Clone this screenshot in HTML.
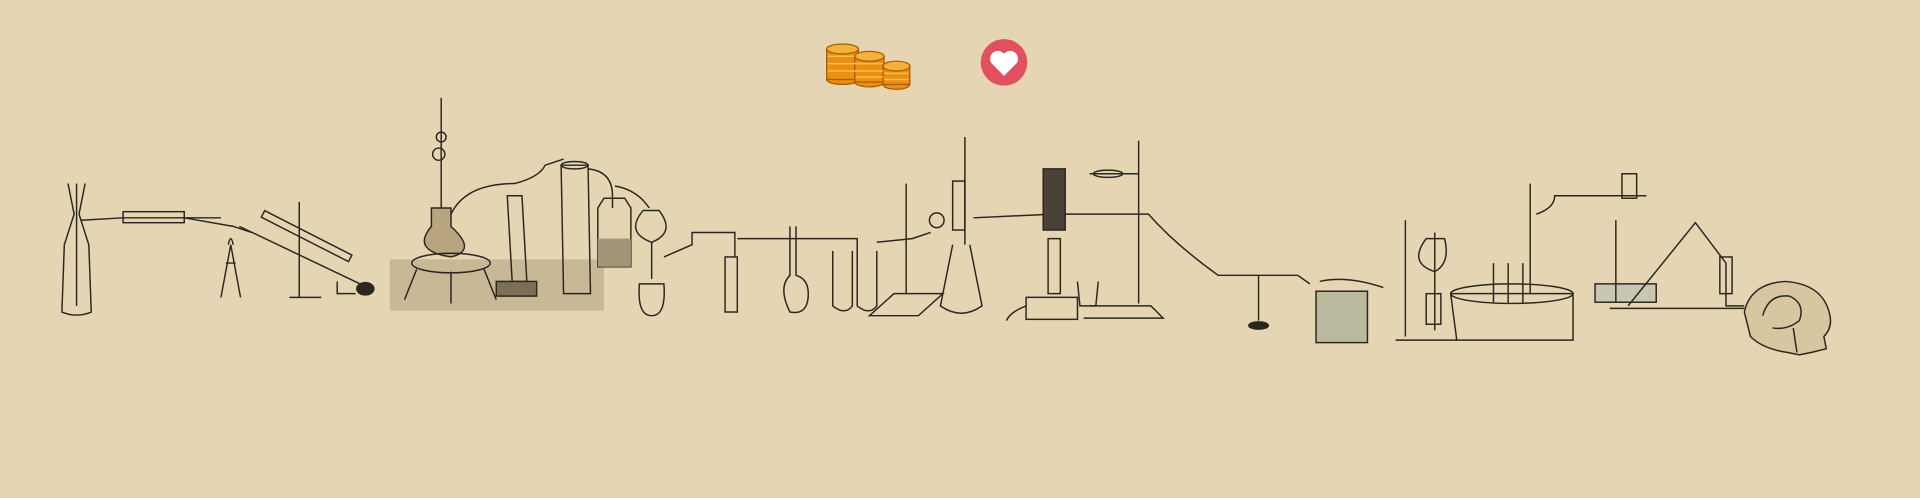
<!DOCTYPE html>
<html><head><meta charset="utf-8"><style>
html,body{margin:0;padding:0;background:#e5d5b3;width:1920px;height:498px;overflow:hidden}
svg{display:block}
</style></head><body>
<svg width="1920" height="498" viewBox="0 0 1568 407" xmlns="http://www.w3.org/2000/svg">
<rect width="1568" height="407" fill="#e5d5b3"/>
<!-- coins -->
<g>
  <g fill="#e98f12" stroke="#a85a05" stroke-width="1">
    <ellipse cx="688" cy="65" rx="13" ry="4"/><rect x="675" y="40" width="26" height="25"/>
    <ellipse cx="710" cy="67" rx="12" ry="4"/><rect x="698" y="46" width="24" height="21"/>
    <ellipse cx="732" cy="69" rx="11" ry="4"/><rect x="721" y="54" width="22" height="15"/>
  </g>
  <g stroke="#f7c04a" stroke-width="1.2">
    <line x1="676" y1="46" x2="700" y2="46"/><line x1="676" y1="52" x2="700" y2="52"/><line x1="676" y1="58" x2="700" y2="58"/>
    <line x1="699" y1="52" x2="721" y2="52"/><line x1="699" y1="58" x2="721" y2="58"/><line x1="699" y1="63" x2="721" y2="63"/>
    <line x1="722" y1="60" x2="742" y2="60"/><line x1="722" y1="65" x2="742" y2="65"/>
  </g>
  <ellipse cx="688" cy="40" rx="13" ry="4" fill="#f5b23a" stroke="#a85a05"/>
  <ellipse cx="710" cy="46" rx="12" ry="4" fill="#f5b23a" stroke="#a85a05"/>
  <ellipse cx="732" cy="54" rx="11" ry="4" fill="#f5b23a" stroke="#a85a05"/>
</g>
<!-- heart -->
<g>
  <title>Like</title>
  <circle cx="820" cy="51" r="19" fill="#e0505f"/>
  <path d="M820 62 L810 52 A5.5 5.5 0 0 1 820 44 A5.5 5.5 0 0 1 830 52 Z" fill="#fff"/>
</g>
<g fill="none" stroke="#2b2620" stroke-width="1.2">
  <!-- bottle left -->
  <g>
    <path d="M55 150 L60 175 L52 200 L50 255 Q62 260 74 255 L72 200 L64 175 L69 150"/>
    <line x1="62" y1="150" x2="62" y2="250"/>
    <path d="M66 180 L100 178 L180 178"/>
    <rect x="100" y="173" width="50" height="9"/>
    <path d="M150 178 L190 185 L205 190"/>
  </g>
  <!-- small flask stand -->
  <g>
    <path d="M180 243 L188 200 L196 243"/><path d="M184 215 L192 215 M186 200 Q188 190 190 200"/>
    <line x1="244" y1="165" x2="244" y2="243"/><line x1="236" y1="243" x2="262" y2="243"/>
    <path d="M195 185 L300 235"/><rect x="210" y="190" width="80" height="6" transform="rotate(27 250 193)"/>
    <path d="M275 230 L275 240 L290 240"/>
    <ellipse cx="298" cy="236" rx="7" ry="5" fill="#2b2620"/>
  </g>
  <!-- big flask with burner -->
  <g>
    <rect x="318" y="212" width="175" height="42" fill="#c8b895" stroke="none"/>
    <line x1="360" y1="80" x2="360" y2="170"/><circle cx="360" cy="112" r="4"/><circle cx="358" cy="126" r="5"/>
    <path d="M352 170 L352 185 Q335 205 368 210 Q390 205 368 185 L368 170 Z" fill="#b8a57f"/>
    <ellipse cx="368" cy="215" rx="32" ry="8"/>
    <path d="M340 220 L330 245 M395 220 L405 245 M368 222 L368 248"/>
    <path d="M368 175 Q380 150 420 150 Q440 145 445 135 L460 130"/>
    <path d="M414 160 L418 230 L430 230 L426 160 Z"/>
    <rect x="405" y="230" width="33" height="12" fill="#7d6e55"/>
    <path d="M458 135 L460 240 L482 240 L480 135 Z"/><ellipse cx="469" cy="135" rx="11" ry="3"/>
  </g>
  <!-- bottles -->
  <g>
    <path d="M480 138 Q500 140 500 160 L500 170"/>
    <path d="M488 170 L488 218 L515 218 L515 170 L510 162 L493 162 Z"/>
    <rect x="488" y="195" width="27" height="23" fill="#a49478" stroke="none"/>
    <path d="M502 152 Q520 155 530 170"/>
    <path d="M525 172 Q510 190 532 198 Q552 190 538 172 Z"/><path d="M532 198 L532 228"/>
    <path d="M522 232 Q520 258 532 258 Q544 258 542 232 Z"/>
    <path d="M542 210 L565 200 L565 190 L600 190 L600 210"/>
    <rect x="592" y="210" width="10" height="45"/>
    <path d="M602 195 L640 195 L648 195 L700 195 L700 215"/>
    <path d="M645 185 L645 225 Q635 235 645 255 Q660 258 660 240 Q660 228 650 225 L650 185"/>
    <path d="M680 205 L680 250 Q690 258 696 250 L696 205 M700 205 L700 250 Q710 258 716 250 L716 205"/>
    <path d="M716 198 L745 195 L760 190"/>
  </g>
  <!-- stand + erlenmeyer -->
  <g>
    <line x1="740" y1="150" x2="740" y2="240"/><path d="M710 258 L750 258 L770 240 L730 240 Z"/>
    <line x1="788" y1="112" x2="788" y2="200"/><rect x="778" y="148" width="10" height="40"/>
    <path d="M778 200 L768 250 Q785 262 802 250 L792 200"/>
    <circle cx="765" cy="180" r="6"/>
    <path d="M795 178 L860 175 L860 175"/>
  </g>
  <!-- burner column -->
  <g>
    <rect x="852" y="138" width="18" height="50" fill="#4a4238"/>
    <path d="M856 195 L866 195 L866 240 L856 240 Z"/>
    <rect x="838" y="243" width="42" height="18"/>
    <path d="M838 250 Q825 255 822 262"/>
    <line x1="930" y1="115" x2="930" y2="248"/><line x1="890" y1="142" x2="930" y2="142"/>
    <ellipse cx="905" cy="142" rx="12" ry="3"/>
    <path d="M880 230 L882 250 L895 250 L897 230"/>
    <path d="M885 260 L950 260 L940 250 L890 250"/>
    <path d="M870 175 L938 175 Q960 200 995 225 L1060 225 L1070 232"/>
  </g>
  <!-- pneumatic trough area -->
  <g>
    <line x1="1028" y1="225" x2="1028" y2="262"/><ellipse cx="1028" cy="266" rx="8" ry="3" fill="#2b2620"/>
    <rect x="1075" y="238" width="42" height="42" fill="#b9ba9e"/>
    <path d="M1078 230 Q1100 225 1130 235"/>
    <line x1="1148" y1="180" x2="1148" y2="275"/><line x1="1140" y1="278" x2="1190" y2="278"/>
    <path d="M1165 195 Q1150 215 1172 222 Q1185 215 1180 195 Z M1172 190 L1172 270"/>
    <rect x="1165" y="240" width="12" height="25"/>
    <path d="M1185 240 L1190 278 L1285 278 L1285 240 Z"/><ellipse cx="1235" cy="240" rx="50" ry="8"/>
    <path d="M1220 215 L1220 248 M1232 215 L1232 248 M1244 215 L1244 248"/>
    <line x1="1250" y1="150" x2="1250" y2="240"/>
    <path d="M1255 175 Q1270 170 1270 160 L1345 160"/>
    <rect x="1325" y="142" width="12" height="20"/>
  </g>
  <g>
    <rect x="1303" y="232" width="50" height="15" fill="#c9c7b0"/>
    <line x1="1320" y1="180" x2="1320" y2="247"/>
    <path d="M1330 250 L1385 182 L1410 215 L1410 250 L1425 250"/>
    <rect x="1405" y="210" width="10" height="30"/>
    <path d="M1315 252 L1425 252"/>
  </g>
  <g>
    <path d="M1425 255 Q1430 232 1458 230 Q1490 232 1495 258 Q1497 268 1490 275 L1492 285 L1480 288 L1470 290 L1460 288 Q1440 285 1430 275 Z" fill="#d7c6a0"/>
    <path d="M1440 258 Q1445 240 1462 242 Q1475 248 1470 262 Q1460 270 1448 268"/>
    <path d="M1465 268 L1468 288"/>
  </g>
</g>
</svg>
</body></html>
